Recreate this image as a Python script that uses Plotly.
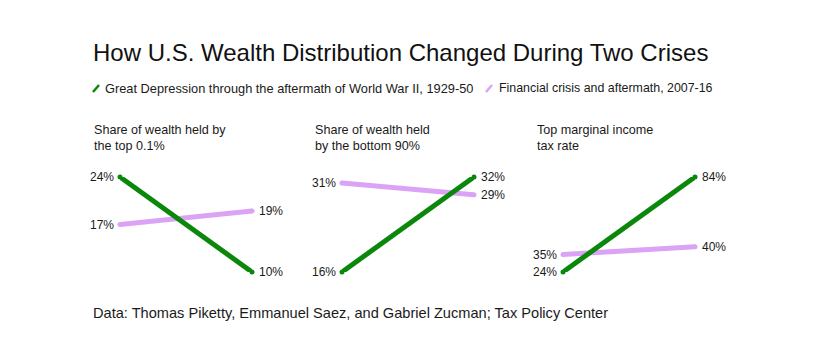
import plotly.graph_objects as go

W, H = 839, 362
OFF = 8  # browser body margin

panel_titles = ["Share of wealth held by<br>the top 0.1%",
                "Share of wealth held<br>by the bottom 90%",
                "Top marginal income<br>tax rate"]
green_vals = [[24, 10], [16, 32], [24, 84]]
purple_vals = [[17, 19], [31, 29], [35, 40]]
series_names = ["Great Depression through the aftermath of World War II, 1929-50",
                "Financial crisis and aftermath, 2007-16"]
title_text = "How U.S. Wealth Distribution Changed During Two Crises"
source_text = "Data: Thomas Piketty, Emmanuel Saez, and Gabriel Zucman; Tax Policy Center"

GREEN = "#0b870b"
PURPLE = "#dba3f6"
TXT = "#1a1a1a"
FONT = "Liberation Sans, Arial, sans-serif"

def px(x):
    return (x - OFF) / W

def py(y):
    return 1 - (y - OFF) / H

panel_x = [(120, 252), (342, 474), (563, 695)]
title_x = [92, 313, 535]
y_top, y_bot = 177, 272

fig = go.Figure()
layout = dict(
    width=W, height=H,
    margin=dict(l=0, r=0, t=0, b=0),
    paper_bgcolor="white", plot_bgcolor="white",
    showlegend=False,
    font=dict(family=FONT, color=TXT),
)
annotations = []
shapes = []

for i in range(3):
    n = "" if i == 0 else str(i + 1)
    xa, ya = "x" + n, "y" + n
    allv = green_vals[i] + purple_vals[i]
    lo, hi = min(allv), max(allv)
    layout["xaxis" + n] = dict(domain=[px(panel_x[i][0]), px(panel_x[i][1])], range=[0, 1],
                               visible=False, fixedrange=True)
    layout["yaxis" + n] = dict(domain=[py(y_bot), py(y_top)], range=[lo, hi],
                               visible=False, fixedrange=True)
    for vals, col in [(purple_vals[i], PURPLE), (green_vals[i], GREEN)]:
        fig.add_trace(go.Scatter(
            x=[0, 1], y=vals, xaxis=xa, yaxis=ya, mode="lines+markers",
            line=dict(color=col, width=5), marker=dict(color=col, size=5),
            cliponaxis=False, hoverinfo="skip"))
        annotations.append(dict(x=0, y=vals[0], xref=xa, yref=ya, text=f"{vals[0]}%",
                                showarrow=False, xanchor="right", xshift=-4,
                                font=dict(size=12, color=TXT)))
        annotations.append(dict(x=1, y=vals[1], xref=xa, yref=ya, text=f"{vals[1]}%",
                                showarrow=False, xanchor="left", xshift=5,
                                font=dict(size=12, color=TXT)))
    annotations.append(dict(x=px(title_x[i]), y=py(121), xref="paper", yref="paper",
                            text=panel_titles[i], showarrow=False, xanchor="left",
                            yanchor="top", align="left",
                            font=dict(size=12.6, color=TXT)))

annotations.append(dict(x=px(91), y=py(53), xref="paper", yref="paper", text=title_text,
                        showarrow=False, xanchor="left", yanchor="middle",
                        font=dict(size=24, color="#111111")))
# legend
for (x0, col) in [(92, GREEN), (485, PURPLE)]:
    shapes.append(dict(type="line", xref="paper", yref="paper",
                       x0=px(x0 + 1), y0=py(92), x1=px(x0 + 7), y1=py(85),
                       line=dict(color=col, width=2.5)))
annotations.append(dict(x=px(103), y=py(88), xref="paper", yref="paper",
                        text=series_names[0],
                        showarrow=False, xanchor="left", yanchor="middle",
                        font=dict(size=12.8, color=TXT)))
annotations.append(dict(x=px(497), y=py(88), xref="paper", yref="paper",
                        text=series_names[1],
                        showarrow=False, xanchor="left", yanchor="middle",
                        font=dict(size=12.4, color=TXT)))
annotations.append(dict(x=px(91), y=py(313), xref="paper", yref="paper", text=source_text,
                        showarrow=False, xanchor="left", yanchor="middle",
                        font=dict(size=14.6, color=TXT)))

layout["annotations"] = annotations
layout["shapes"] = shapes
fig.update_layout(**layout)
fig.write_html("out.html")
